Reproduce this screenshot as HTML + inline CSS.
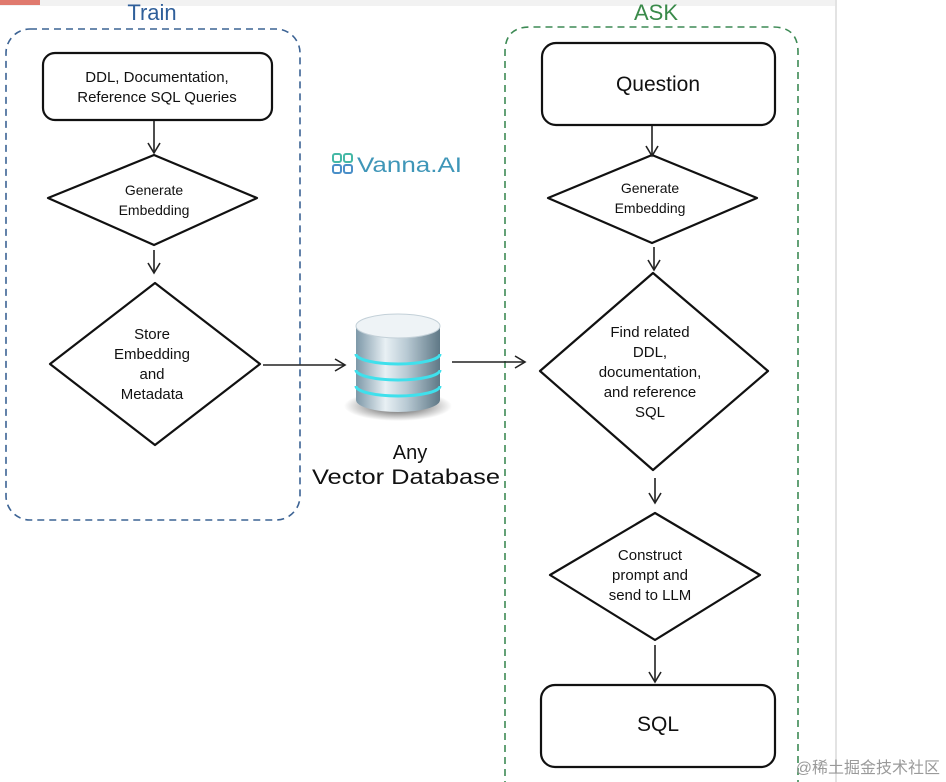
<!DOCTYPE html>
<html><head><meta charset="utf-8"><style>
html,body{margin:0;padding:0;background:#fff;width:946px;height:782px;overflow:hidden}
svg text{font-family:"Liberation Sans",sans-serif}
</style></head><body>
<svg width="946" height="782" viewBox="0 0 946 782" xmlns="http://www.w3.org/2000/svg">
<defs>
<marker id="ar" markerWidth="14" markerHeight="14" refX="12" refY="7" orient="auto" markerUnits="userSpaceOnUse">
<path d="M2,1 L12,7 L2,13" fill="none" stroke="#222" stroke-width="1.6"/>
</marker>
<linearGradient id="cyl" x1="0" x2="1">
<stop offset="0" stop-color="#7d98a8"/><stop offset="0.35" stop-color="#e8f0f4"/><stop offset="0.6" stop-color="#b9cad4"/><stop offset="1" stop-color="#5f7886"/>
</linearGradient>
<radialGradient id="sh"><stop offset="0" stop-color="#222" stop-opacity="0.9"/><stop offset="1" stop-color="#333" stop-opacity="0"/></radialGradient>
</defs>
<rect x="0" y="0" width="836" height="6" fill="#f2f2f2"/>
<rect x="0" y="0" width="40" height="5" fill="#e07a6e"/>
<line x1="836" y1="0" x2="836" y2="782" stroke="#e3e3e3" stroke-width="2"/>
<text x="152" y="20" font-size="22" fill="#2f5f9a" text-anchor="middle">Train</text>
<text x="656" y="20" font-size="22" fill="#3a8a4a" text-anchor="middle">ASK</text>
<rect x="6" y="29" width="294" height="491" rx="24" fill="none" stroke="#3c6394" stroke-width="1.6" stroke-dasharray="7,5"/>
<path d="M505,800 L505,52 Q505,27 530,27 L773,27 Q798,27 798,52 L798,800" fill="none" stroke="#3d8a55" stroke-width="1.6" stroke-dasharray="7,5"/>
<g fill="#fff" stroke="#111" stroke-width="2.2" stroke-linejoin="round">
<rect x="43" y="53" width="229" height="67" rx="12"/>
<path d="M154,155 L257,198 L154,245 L48,198 Z"/>
<path d="M155,283 L260,364 L155,445 L50,364 Z"/>
<rect x="542" y="43" width="233" height="82" rx="14"/>
<path d="M652,155 L757,198 L652,243 L548,198 Z"/>
<path d="M653,273 L768,371 L653,470 L540,371 Z"/>
<path d="M655,513 L760,575 L655,640 L550,575 Z"/>
<rect x="541" y="685" width="234" height="82" rx="14"/>
</g>
<g stroke="#222" stroke-width="1.6" fill="none" marker-end="url(#ar)">
<line x1="154" y1="121" x2="154" y2="153"/>
<line x1="154" y1="250" x2="154" y2="273"/>
<line x1="263" y1="365" x2="345" y2="365"/>
<line x1="452" y1="362" x2="525" y2="362"/>
<line x1="652" y1="126" x2="652" y2="156"/>
<line x1="654" y1="247" x2="654" y2="270"/>
<line x1="655" y1="478" x2="655" y2="503"/>
<line x1="655" y1="645" x2="655" y2="682"/>
</g>
<g font-size="15" fill="#111" text-anchor="middle">
<text x="157" y="82">DDL, Documentation,</text>
<text x="157" y="102">Reference SQL Queries</text>
<text x="154" y="195" font-size="14">Generate</text>
<text x="154" y="215" font-size="14">Embedding</text>
<text x="152" y="339">Store</text>
<text x="152" y="359">Embedding</text>
<text x="152" y="379">and</text>
<text x="152" y="399">Metadata</text>
<text x="658" y="91" font-size="21">Question</text>
<text x="650" y="193" font-size="14">Generate</text>
<text x="650" y="213" font-size="14">Embedding</text>
<text x="650" y="337">Find related</text>
<text x="650" y="357">DDL,</text>
<text x="650" y="377">documentation,</text>
<text x="650" y="397">and reference</text>
<text x="650" y="417">SQL</text>
<text x="650" y="560">Construct</text>
<text x="650" y="580">prompt and</text>
<text x="650" y="600">send to LLM</text>
<text x="658" y="731" font-size="21">SQL</text>
<text x="410" y="459" font-size="20">Any</text>
<text x="406" y="484" font-size="21" textLength="188" lengthAdjust="spacingAndGlyphs">Vector Database</text>
</g>
<!-- database -->
<ellipse cx="398" cy="406" rx="54" ry="15" fill="url(#sh)"/>
<path d="M356,326 L356,400 A42,12 0 0 0 440,400 L440,326 Z" fill="url(#cyl)"/>
<ellipse cx="398" cy="326" rx="42" ry="12" fill="#eef3f6" stroke="#c3d0d8"/>
<g stroke="#3fe0ec" stroke-width="3" fill="none">
<path d="M356,354 A42,10 0 0 0 440,354"/>
<path d="M356,370 A42,10 0 0 0 440,370"/>
<path d="M356,386 A42,10 0 0 0 440,386"/>
</g>
<!-- logo -->
<g fill="none" stroke="#45b8a6" stroke-width="2">
<rect x="333" y="154" width="8" height="8" rx="2"/><rect x="344" y="154" width="8" height="8" rx="2"/>
<rect x="333" y="165" width="8" height="8" rx="2" stroke="#4a8fc8"/><rect x="344" y="165" width="8" height="8" rx="2" stroke="#4a8fc8"/>
</g>
<text x="357" y="172" font-size="21" fill="#3f96b8" textLength="105" lengthAdjust="spacingAndGlyphs">Vanna.AI</text>
<text x="940" y="773" font-size="16" fill="#9a9a9a" text-anchor="end" font-family="'Liberation Sans','Noto Sans CJK SC',sans-serif">@稀土掘金技术社区</text>
</svg>
</body></html>
